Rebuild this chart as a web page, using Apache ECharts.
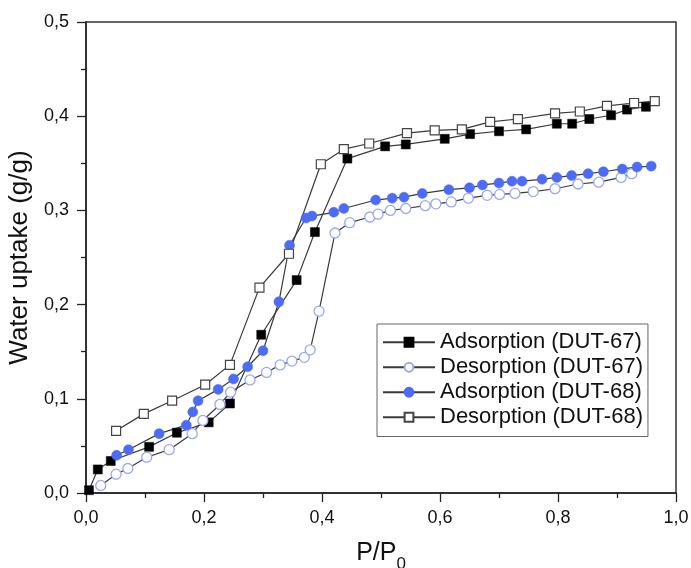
<!DOCTYPE html>
<html>
<head>
<meta charset="utf-8">
<script src="https://cdn.jsdelivr.net/npm/echarts@6/dist/echarts.min.js"></script>
<style>
html,body{margin:0;padding:0;background:#fff;}
#chart{width:691px;height:568px;}
</style>
</head>
<body>
<div id="chart"></div>
<script>
// Series names
var seriesNames = ['Adsorption (DUT-67)', 'Desorption (DUT-67)', 'Adsorption (DUT-68)', 'Desorption (DUT-68)'];

// Adsorption (DUT-67)
var ads67P = [0.005,0.02,0.042,0.107,0.154,0.208,0.244,0.297,0.357,0.388,0.443,0.507,0.542,0.608,0.651,0.700,0.746,0.798,0.824,0.853,0.890,0.917,0.949];
var ads67W = [0.003,0.025,0.034,0.049,0.064,0.075,0.095,0.168,0.226,0.277,0.355,0.368,0.370,0.376,0.381,0.384,0.386,0.392,0.392,0.397,0.401,0.407,0.410];

// Desorption (DUT-67)
var des67P = [0.025,0.051,0.071,0.103,0.141,0.180,0.198,0.227,0.245,0.278,0.306,0.329,0.349,0.370,0.380,0.395,0.422,0.447,0.481,0.495,0.516,0.542,0.575,0.593,0.619,0.648,0.680,0.701,0.727,0.758,0.795,0.834,0.869,0.907,0.925];
var des67W = [0.008,0.020,0.026,0.038,0.046,0.063,0.077,0.094,0.107,0.120,0.128,0.136,0.140,0.144,0.152,0.193,0.276,0.287,0.293,0.296,0.300,0.302,0.305,0.307,0.309,0.313,0.316,0.317,0.318,0.320,0.323,0.328,0.330,0.335,0.339];

// Adsorption (DUT-68)
var ads68P = [0.052,0.072,0.124,0.170,0.181,0.190,0.224,0.250,0.274,0.300,0.327,0.345,0.373,0.383,0.420,0.437,0.491,0.519,0.539,0.570,0.615,0.650,0.672,0.700,0.722,0.739,0.773,0.798,0.823,0.851,0.877,0.909,0.934,0.958];
var ads68W = [0.040,0.046,0.063,0.072,0.086,0.098,0.110,0.121,0.134,0.151,0.203,0.263,0.292,0.294,0.298,0.302,0.311,0.313,0.314,0.318,0.322,0.324,0.327,0.329,0.331,0.331,0.333,0.335,0.337,0.339,0.341,0.344,0.346,0.347];

// Desorption (DUT-68)
var des68P = [0.051,0.098,0.146,0.202,0.244,0.294,0.344,0.398,0.437,0.480,0.544,0.591,0.637,0.685,0.732,0.795,0.837,0.883,0.929,0.964];
var des68W = [0.066,0.084,0.098,0.115,0.136,0.218,0.254,0.349,0.365,0.371,0.382,0.385,0.386,0.394,0.397,0.403,0.405,0.411,0.414,0.416];

// Tick labels
var xTickLabels = ['0,0','0,2','0,4','0,6','0,8','1,0'];
var yTickLabels = ['0,0','0,1','0,2','0,3','0,4','0,5'];

function zip(a, b) { return a.map(function (v, i) { return [v, b[i]]; }); }

var FONT = "'Liberation Sans', Arial, sans-serif";
var LINE = '#3a3a3a';

function mkSeries(name, data, symbol, fill, border, bw) {
  return {
    name: name,
    type: 'line',
    data: data,
    symbol: symbol,
    symbolSize: symbol === 'rect' ? 9 : 10,
    showSymbol: true,
    animation: false,
    lineStyle: { color: LINE, width: 1.2 },
    itemStyle: { color: fill, borderColor: border, borderWidth: bw, opacity: 1 },
    emphasis: { disabled: true }
  };
}

var chart = echarts.init(document.getElementById('chart'), null, { renderer: 'canvas' });
chart.setOption({
  backgroundColor: '#fff',
  animation: false,
  textStyle: { fontFamily: FONT },
  grid: { left: 86, right: 15, top: 22, bottom: 75, containLabel: false, outerBoundsMode: 'none',
          show: true, borderColor: '#333', borderWidth: 1.5, backgroundColor: 'transparent' },
  legend: {
    orient: 'vertical',
    left: 377, top: 324,
    data: seriesNames,
    itemWidth: 52, itemHeight: 11, itemGap: 0.5,
    padding: [6, 5, 7, 5],
    borderColor: '#666', borderWidth: 1,
    textStyle: { fontFamily: FONT, fontSize: 22, color: '#111', lineHeight: 24.5 },
    selectedMode: false
  },
  xAxis: {
    type: 'value', min: 0, max: 1, interval: 0.2,
    name: '{a|P/P}{b|0}', nameLocation: 'middle', nameGap: 48,
    nameTextStyle: {
      rich: {
        a: { fontFamily: FONT, fontSize: 25, lineHeight: 25, color: '#111', verticalAlign: 'top' },
        b: { fontFamily: FONT, fontSize: 17, lineHeight: 17, color: '#111', verticalAlign: 'top', padding: [15, 0, 0, 0] }
      }
    },
    axisLine: { show: true, lineStyle: { color: '#222', width: 1.5 } },
    axisTick: { show: true, inside: false, length: 9, lineStyle: { color: '#222', width: 1.3 } },
    minorTick: { show: true, splitNumber: 2, length: 5, lineStyle: { color: '#222', width: 1.3 } },
    splitLine: { show: false },
    axisLabel: { fontFamily: FONT, fontSize: 18, color: '#111', margin: 16,
      formatter: function (v) { return xTickLabels[Math.round(v / 0.2)]; } }
  },
  yAxis: {
    type: 'value', min: 0, max: 0.5, interval: 0.1,
    name: 'Water uptake (g/g)', nameLocation: 'middle', nameGap: 47,
    nameTextStyle: { fontFamily: FONT, fontSize: 26, color: '#111' },
    axisLine: { show: true, lineStyle: { color: '#222', width: 1.5 } },
    axisTick: { show: true, inside: false, length: 9, lineStyle: { color: '#222', width: 1.3 } },
    minorTick: { show: true, splitNumber: 2, length: 5, lineStyle: { color: '#222', width: 1.3 } },
    splitLine: { show: false },
    axisLabel: { fontFamily: FONT, fontSize: 18, color: '#111', margin: 17,
      formatter: function (v) { return yTickLabels[Math.round(v / 0.1)]; } }
  },
  series: [
    mkSeries(seriesNames[0], zip(ads67P, ads67W), 'rect', '#000', '#000', 0.5),
    mkSeries(seriesNames[1], zip(des67P, des67W), 'circle', '#fff', '#9aa8f0', 1.3),
    mkSeries(seriesNames[2], zip(ads68P, ads68W), 'circle', '#4d6bf5', '#4d6bf5', 0.5),
    mkSeries(seriesNames[3], zip(des68P, des68W), 'rect', '#fff', '#444', 1.2)
  ]
});
</script>
</body>
</html>
